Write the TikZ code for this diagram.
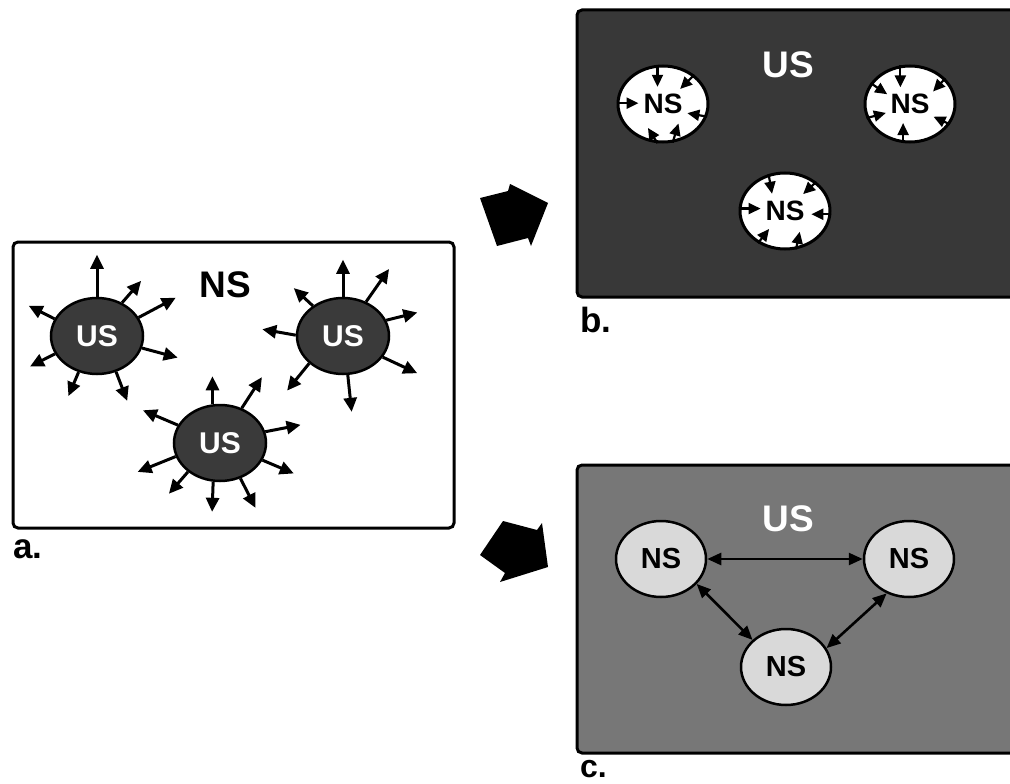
\documentclass[tikz,border=0pt]{standalone}
\usepackage{fontspec}
\setmainfont{Liberation Sans}
\usetikzlibrary{arrows.meta,shapes.geometric}
\definecolor{usdark}{HTML}{3A3A3A}
\definecolor{bgb}{HTML}{383838}
\definecolor{bgc}{HTML}{777777}
\definecolor{nsgray}{HTML}{D9D9D9}
\begin{document}
\begin{tikzpicture}[x=1pt,y=1pt,
  panel/.style={draw=black,line width=3pt,rounded corners=5pt},
  usell/.style={ellipse,draw=black,line width=2.5pt,fill=usdark,minimum width=92pt,minimum height=76pt,inner sep=0pt,text=white,font=\fontsize{30}{30}\selectfont\bfseries},
  nsb/.style={ellipse,draw=black,line width=3pt,fill=white,minimum width=90pt,minimum height=76pt,inner sep=0pt,text=black,font=\fontsize{28}{28}\selectfont\bfseries},
  nsc/.style={ellipse,draw=black,line width=2.5pt,fill=nsgray,minimum width=90pt,minimum height=76pt,inner sep=0pt,text=black,font=\fontsize{29}{29}\selectfont\bfseries},
  bigtxt/.style={font=\fontsize{37}{37}\selectfont\bfseries,inner sep=0pt},
  lbl/.style={font=\fontsize{35}{35}\selectfont\bfseries,inner sep=0pt,anchor=base west},
  outarr/.style={line width=3pt,-{Triangle[length=14pt,width=13pt]}},
  inarr/.style={line width=2.2pt,-{Triangle[length=12pt,width=11pt]}},
  dblarr/.style={line width=2.6pt,{Triangle[length=14pt,width=12pt]}-{Triangle[length=14pt,width=12pt]}},
]
\useasboundingbox (0,0) rectangle (1010,-784);
\begin{scope}
\clip (0,0) rectangle (1010,-784);

% ---------- panel a ----------
\draw[panel,fill=white] (13,-242) rectangle (454,-528);
\node[bigtxt] (nsa) at (225,-285) {NS};
\node[usell] (u1) at (97,-336) {US};
\node[usell] (u2) at (343,-336) {US};
\node[usell] (u3) at (220,-443) {US};
\foreach \t/\d/\l in {90/90/42, 53/49/29, 24/28/42, -15/-15/37, -62/-69/31, -117/-113/26, -157/-153/28, 158/153/29}
  \draw[outarr] (u1.\t) -- ++(\d:\l);
\foreach \t/\d/\l in {90/90/37, 56/55/40, 135/137/26, 20/14/32, -28/-25/38, 179/170/34, -141/-129/35, -83/-84/37}
  \draw[outarr] (u2.\t) -- ++(\d:\l);
\foreach \t/\d/\l in {101/90/28, 58/57/37, 157/157/38, 14/11/36, -22/-23/34, -163/-158/41, -138/-131/29, -100/-92/30, -60/-63/33}
  \draw[outarr] (u3.\t) -- ++(\d:\l);
\node[lbl] (la) at (13,-558) {a.};

% ---------- panel b ----------
\draw[panel,fill=bgb] (577,-10) rectangle (1025,-297);
\node[bigtxt,text=white] (usb) at (788,-65) {US};
\node[nsb] (b1) at (663,-104) {NS};
\node[nsb] (b2) at (910,-104) {NS};
\node[nsb] (b3) at (785,-211) {NS};
\foreach \t/\d/\l in {98/270/22, 43/225/20, 179/0/22, -16/170/20, -98/122/18, -76/73/20}
  \draw[inarr] (b1.\t) -- ++(\d:\l);
\foreach \t/\d/\l in {104/270/22, 152/-34/20, 36/227/18, -162/15/20, -27/155/18, -100/90/20}
  \draw[inarr] (b2.\t) -- ++(\d:\l);
\foreach \t/\d/\l in {114/-80/20, 43/223/18, 177/0/22, -4/180/20, -130/52/18, -74/78/18}
  \draw[inarr] (b3.\t) -- ++(\d:\l);
\node[lbl] (lb) at (580,-332) {b.};

% ---------- panel c ----------
\draw[panel,fill=bgc] (577,-465) rectangle (1025,-753);
\node[bigtxt,text=white] (usc) at (788,-519) {US};
\node[nsc] (c1) at (661,-559) {NS};
\node[nsc] (c2) at (909,-559) {NS};
\node[nsc] (c3) at (786,-667) {NS};
\draw[dblarr] (c1.east) -- (c2.west);
\draw[dblarr] (c1.-35) -- (c3.141);
\draw[dblarr] (c2.-123) -- (c3.25);
\node[lbl,font=\fontsize{32}{32}\selectfont\bfseries] (lc) at (580,-777) {c.};

% ---------- block arrows ----------
\fill[black] (480,-198) -- (508,-191) -- (510,-184) -- (548,-203) -- (531,-246) -- (528,-238) -- (497,-246) -- cycle;
\fill[black] (480,-555) -- (503,-521) -- (537,-530) -- (542,-523) -- (548,-567) -- (500,-582) -- (505,-573) -- cycle;
\end{scope}
\end{tikzpicture}
\end{document}
